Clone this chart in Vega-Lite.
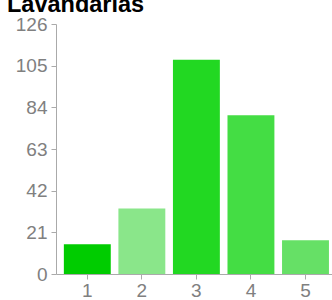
{
  "$schema": "https://vega.github.io/schema/vega-lite/v6.json",
  "autosize": {"type": "none"},
  "padding": {"left": 56, "top": 24, "right": 0, "bottom": 26},
  "width": 276,
  "height": 250,
  "title": {
    "text": "Lavandarias",
    "anchor": "start",
    "frame": "group",
    "dx": -49,
    "offset": 0,
    "dy": 20,
    "baseline": "alphabetic",
    "font": "Liberation Sans",
    "fontSize": 23.5,
    "fontWeight": "bold",
    "color": "#000000"
  },
  "data": {
    "values": [
      {"rating": "1", "count": 15, "color": "#00cc00"},
      {"rating": "2", "count": 33, "color": "#8ae68a"},
      {"rating": "3", "count": 108, "color": "#22d822"},
      {"rating": "4", "count": 80, "color": "#44dd44"},
      {"rating": "5", "count": 17, "color": "#66e066"}
    ]
  },
  "mark": {"type": "bar"},
  "encoding": {
    "x": {
      "field": "rating",
      "type": "nominal",
      "sort": null,
      "scale": {"paddingInner": 0.14, "paddingOuter": 0.1, "align": 0.72},
      "axis": {
        "title": null,
        "labelAngle": 0,
        "labelFont": "Liberation Sans",
        "labelFontSize": 19,
        "labelColor": "#808080",
        "labelPadding": 2,
        "tickSize": 5,
        "tickColor": "#aaaaaa",
        "domainColor": "#aaaaaa",
        "grid": false
      }
    },
    "y": {
      "field": "count",
      "type": "quantitative",
      "scale": {"domain": [0, 126], "nice": false},
      "axis": {
        "title": null,
        "values": [0, 21, 42, 63, 84, 105, 126],
        "labelFont": "Liberation Sans",
        "labelFontSize": 19,
        "labelColor": "#808080",
        "labelPadding": 4,
        "tickSize": 5,
        "tickColor": "#aaaaaa",
        "domainColor": "#aaaaaa",
        "grid": false
      }
    },
    "color": {"field": "color", "type": "nominal", "scale": null}
  },
  "config": {"view": {"stroke": null}}
}
